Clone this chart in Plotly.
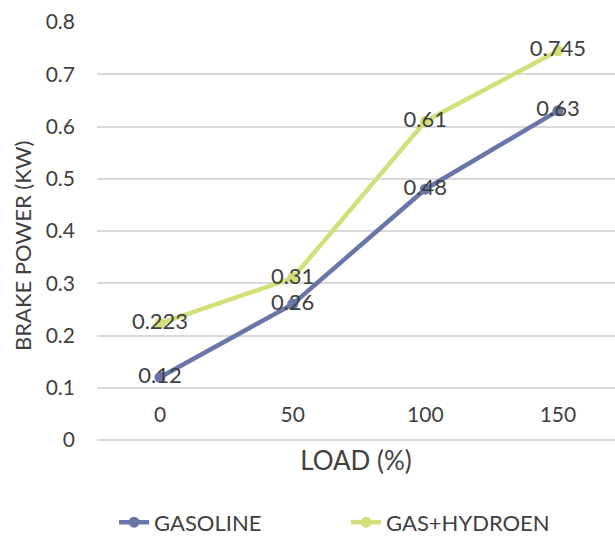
import plotly.graph_objects as go

loads = ["0", "50", "100", "150"]
gasoline = [0.12, 0.26, 0.48, 0.63]
gas_hydrogen = [0.223, 0.31, 0.61, 0.745]
gasoline_labels = ["0.12", "0.26", "0.48", "0.63"]
gas_hydrogen_labels = ["0.223", "0.31", "0.61", "0.745"]

FONT = "Lato, 'Open Sans', sans-serif"
TXT = "#404040"
x = list(range(len(loads)))

fig = go.Figure()
fig.add_trace(go.Scatter(
    x=x, y=gasoline, name="GASOLINE", mode="lines+markers+text",
    line=dict(color="#6B76A8", width=4.5), marker=dict(size=11, color="#6B76A8"),
    text=gasoline_labels, textposition="middle center",
    textfont=dict(family=FONT, size=22, color=TXT),
))
fig.add_trace(go.Scatter(
    x=x, y=gas_hydrogen, name="GAS+HYDROEN", mode="lines+markers+text",
    line=dict(color="#D4DE7A", width=4.5), marker=dict(size=11, color="#D4DE7A"),
    text=gas_hydrogen_labels, textposition="middle center",
    textfont=dict(family=FONT, size=22, color=TXT),
))

fig.update_layout(
    width=615, height=538,
    margin=dict(l=97, r=0, t=22, b=98, autoexpand=False),
    paper_bgcolor="white", plot_bgcolor="white",
    font=dict(family=FONT, size=20, color=TXT),
    showlegend=True,
    legend=dict(orientation="h", x=0.033, xanchor="left", y=-0.197, yanchor="middle",
                font=dict(family=FONT, size=22, color=TXT),
                entrywidth=187, entrywidthmode="pixels"),
    xaxis=dict(
        tickmode="array", tickvals=x, ticktext=loads,
        range=[-0.475, 3.43], anchor="free", position=0.125, automargin=False,
        showgrid=False, zeroline=False, showline=False, ticks="", ticklabelstandoff=12,
        tickfont=dict(family=FONT, size=21, color=TXT),
        title=dict(text="LOAD (%)", font=dict(family=FONT, size=26, color=TXT), standoff=27),
    ),
    yaxis=dict(
        range=[0, 0.8], dtick=0.1, tickformat=".1~f", automargin=False,
        showgrid=True, gridcolor="#D9D9D9", gridwidth=1.5,
        zeroline=True, zerolinecolor="#D9D9D9", zerolinewidth=1.5,
        showline=False, ticks="", ticklabelstandoff=21,
        tickfont=dict(family=FONT, size=21, color=TXT),
    ),
    annotations=[dict(
        text="BRAKE POWER (KW)", textangle=-90, xref="paper", yref="paper",
        x=-0.145, y=0.464, xanchor="center", yanchor="middle", showarrow=False,
        font=dict(family=FONT, size=22, color=TXT),
    )],
)
fig.write_html("out.html", post_script="document.body.style.margin='0';",
               config={"displayModeBar": False})
